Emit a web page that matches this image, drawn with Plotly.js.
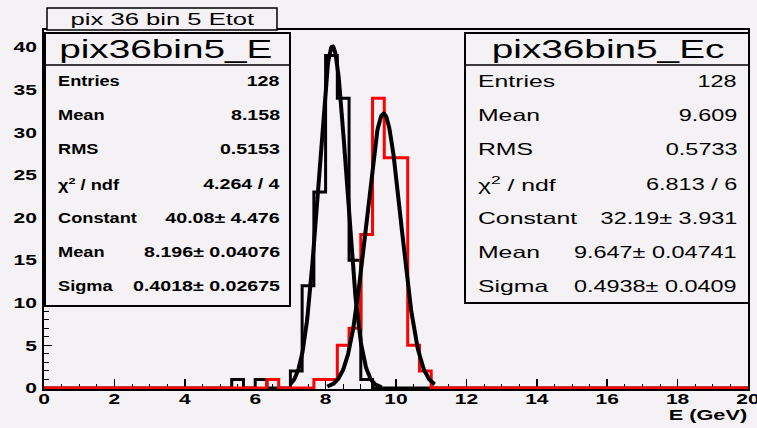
<!DOCTYPE html>
<html><head><meta charset="utf-8">
<script src="https://cdn.plot.ly/plotly-3.0.1.min.js"></script>
<style>html,body{margin:0;padding:0;background:#f5f2f5;} #chart{width:757px;height:428px;}</style>
</head><body><div id="chart"></div>
<script>
// ---------------- data ----------------
const xMin = 0, xMax = 20, binWidth = 1/3;           // 60 bins over 0..20 GeV
const countsE = [0,0,0,0,0,0,0,0,0,0, 0,0,0,0,0,0,1,0,1,0, 0,2,12,23,39,34,15,1,0,0,
                 0,0,0,0,0,0,0,0,0,0, 0,0,0,0,0,0,0,0,0,0, 0,0,0,0,0,0,0,0,0,0];
const countsEc = [0,0,0,0,0,0,0,0,0,0, 0,0,0,0,0,0,0,0,0,1, 0,0,0,1,1,5,7,18,34,27,
                  27,5,2,0,0,0,0,0,0,0, 0,0,0,0,0,0,0,0,0,0, 0,0,0,0,0,0,0,0,0,0];
// gaussian fit parameters [constant, mean, sigma] and drawn fit range
const fitParE = [40.08, 8.196, 0.4018];
const fitRangeE = [7.0, 9.6];
const fitParEc = [32.19, 9.647, 0.4938];
const fitRangeEc = [8.05, 11.1];

const titleText = 'pix 36 bin 5 Etot';
const statTitleE = 'pix36bin5_E';
const statTitleEc = 'pix36bin5_Ec';
const statLabels = ['Entries','Mean','RMS','χ<sup>2</sup> / ndf','Constant','Mean','Sigma'];
const statValuesE = ['128','8.158','0.5153','4.264 / 4','40.08± 4.476','8.196± 0.04076','0.4018± 0.02675'];
const statValuesEc = ['128','9.609','0.5733','6.813 / 6','32.19± 3.931','9.647± 0.04741','0.4938± 0.0409'];
const xTitle = 'E (GeV)';

// ---------------- helpers ----------------
function histXY(counts){
  const x = [], y = [];
  for (let i = 0; i < counts.length; i++){ x.push(xMin + i*binWidth); y.push(counts[i]); }
  x.push(xMax); y.push(counts[counts.length-1]);
  return {x, y};
}
function fitXY(par, range){
  const x = [], y = [], n = 200;
  for (let i = 0; i <= n; i++){
    const xv = range[0] + (range[1]-range[0])*i/n;
    x.push(xv); y.push(par[0]*Math.exp(-0.5*Math.pow((xv-par[1])/par[2],2)));
  }
  return {x, y};
}
// pixel -> paper coordinates
const PL = 44, PR = 748, PT = 30, PB = 389;
const px = v => (v-PL)/(PR-PL);
const py = v => (PB-v)/(PB-PT);

const bg = '#f5f2f5';
const hE = histXY(countsE), hEc = histXY(countsEc);
const fE = fitXY(fitParE, fitRangeE), fEc = fitXY(fitParEc, fitRangeEc);

const traces = [
  {x:hE.x, y:hE.y, mode:'lines', line:{shape:'hv', color:'#000', width:3}, hoverinfo:'skip'},
  {x:hEc.x, y:hEc.y, mode:'lines', line:{shape:'hv', color:'#ff0000', width:3}, hoverinfo:'skip'},
  {x:fE.x, y:fE.y, mode:'lines', line:{color:'#000', width:4}, hoverinfo:'skip'},
  {x:fEc.x, y:fEc.y, mode:'lines', line:{color:'#000', width:4}, hoverinfo:'skip'}
];

const shapes = [];
const annotations = [];
const stretch = [];
function rect(x0,y0,x1,y1,w){
  shapes.push({type:'rect', xref:'paper', yref:'paper', x0:px(x0), x1:px(x1), y0:py(y1), y1:py(y0),
    line:{color:'#000', width:w}, fillcolor:bg, layer:'above'});
}
function hline(x0,x1,y,w){
  shapes.push({type:'line', xref:'paper', yref:'paper', x0:px(x0), x1:px(x1), y0:py(y), y1:py(y),
    line:{color:'#000', width:w}, layer:'above'});
}
function ann(text,x,y,xanchor,size,bold,f){
  annotations.push({text:text, xref:'paper', yref:'paper', x:px(x), y:py(y), xanchor:xanchor, yanchor:'middle',
    showarrow:false, align:xanchor==='center'?'center':xanchor, borderpad:0,
    font:{family:'Liberation Sans, Arial, sans-serif', size:size, color:'#000', weight:bold?'bold':'normal'}});
  stretch.push(f);
}

// title box
rect(47, 8, 277, 30, 1.5);
ann(titleText, 162, 19.5, 'center', 16, false, 1.6);

// stats boxes
const rowY = [81, 115, 149, 183.5, 218, 252, 286];
rect(45, 33, 290, 306, 2);
hline(45, 290, 65, 1.5);
ann(statTitleE, 166, 49, 'center', 25, false, 1.55);
rect(465, 33, 749, 303, 2);
hline(465, 749, 65, 1.5);
ann(statTitleEc, 608, 49, 'center', 25, false, 1.55);
for (let i = 0; i < statLabels.length; i++){
  ann(statLabels[i], 57, rowY[i], 'left', 14, true, 1.3);
  ann(statValuesE[i], 281, rowY[i], 'right', 14, true, 1.4);
  ann(statLabels[i], 477, rowY[i], 'left', 16.5, false, 1.5);
  ann(statValuesEc[i], 738, rowY[i], 'right', 16.5, false, 1.42);
}
ann(xTitle, 748, 414, 'right', 15, true, 1.45);

const tickFont = {family:'Liberation Sans, Arial, sans-serif', size:15, color:'#000', weight:'bold'};
const layout = {
  width:757, height:428,
  margin:{l:PL, r:757-PR, t:PT, b:428-PB, pad:0},
  paper_bgcolor:bg, plot_bgcolor:bg, showlegend:false,
  xaxis:{range:[xMin,xMax], tick0:0, dtick:2, ticks:'inside', ticklen:10, tickwidth:1.5, tickcolor:'#000',
    showline:true, linewidth:2, linecolor:'#000', mirror:true, showgrid:false, zeroline:false,
    tickfont:tickFont, layer:'below traces', ticklabelstandoff:-5,
    minor:{dtick:0.5, tick0:0, ticks:'inside', ticklen:5, tickwidth:1, tickcolor:'#000', showgrid:false}},
  yaxis:{range:[-0.12,42], tick0:0, dtick:5, ticks:'inside', ticklen:8, tickwidth:1.5, tickcolor:'#000',
    showline:true, linewidth:2, linecolor:'#000', mirror:true, showgrid:false, zeroline:false,
    tickfont:tickFont, layer:'below traces', ticklabelstandoff:2,
    minor:{dtick:1, tick0:0, ticks:'inside', ticklen:5, tickwidth:1, tickcolor:'#000', showgrid:false}},
  shapes:shapes, annotations:annotations
};

function stretchEl(el, f){
  const L = el.getComputedTextLength();
  if (L > 0){
    el.setAttribute('textLength', (L*f).toFixed(2));
    el.setAttribute('lengthAdjust', 'spacingAndGlyphs');
  }
}
Plotly.newPlot('chart', traces, layout, {staticPlot:true, displayModeBar:false}).then(function(gd){
  gd.querySelectorAll('.annotation').forEach(function(g){
    const i = +g.getAttribute('data-index');
    const t = g.querySelector('text.annotation-text');
    if (t && stretch[i]) stretchEl(t, stretch[i]);
  });
  gd.querySelectorAll('.xtick text, .ytick text').forEach(function(t){ stretchEl(t, 1.4); });
});
</script></body></html>
